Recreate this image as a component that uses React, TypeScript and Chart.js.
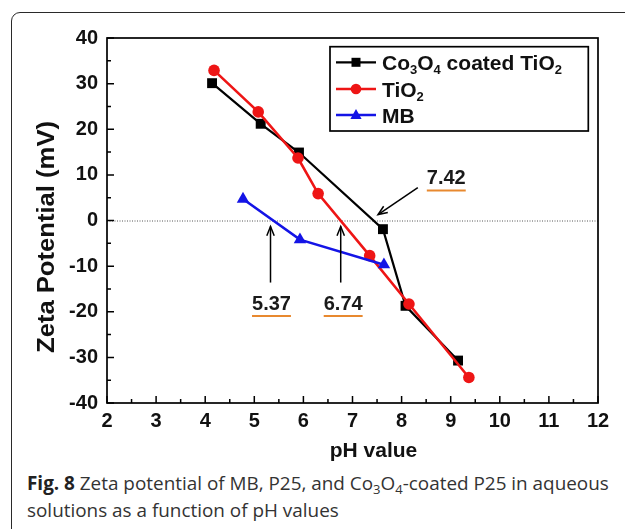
import React, { useEffect, useRef } from "react";
import { Chart, registerables } from "chart.js";

Chart.register(...registerables);

// ---- data ----
const co3o4X = [4.14, 5.13, 5.91, 7.62, 8.08, 9.15];
const co3o4Y = [30.1, 21.2, 14.9, -1.9, -18.7, -30.7];
const tio2X = [4.18, 5.08, 5.89, 6.3, 7.35, 8.15, 9.37];
const tio2Y = [32.9, 23.8, 13.7, 5.9, -7.7, -18.3, -34.4];
const mbX = [4.77, 5.93, 7.64];
const mbY = [4.7, -4.2, -9.7];

const xTickValues = [2, 3, 4, 5, 6, 7, 8, 9, 10, 11, 12];
const yTickValues = [-40, -30, -20, -10, 0, 10, 20, 30, 40];

const annotationLabels = ["5.37", "6.74", "7.42"];
const annotationLabelX = [5.35, 6.81, 8.91];
const annotationLabelY = [-18.3, -18.3, 9.2];
const arrowFromX = [5.33, 6.76, 8.33];
const arrowFromY = [-13.6, -13.6, 7.2];
const arrowToX = [5.33, 6.76, 7.52];
const arrowToY = [-1.3, -1.3, 1.3];

const seriesNames = [
  [
    { t: "Co" },
    { t: "3", sub: true },
    { t: "O" },
    { t: "4", sub: true },
    { t: " coated TiO" },
    { t: "2", sub: true },
  ],
  [{ t: "TiO" }, { t: "2", sub: true }],
  [{ t: "MB" }],
];

const BLACK = "#000000";
const RED = "#ee1515";
const BLUE = "#1414e6";
const FONT = "Arial, 'Liberation Sans', sans-serif";

const zip = (xs: number[], ys: number[]) => xs.map((x, i) => ({ x, y: ys[i] }));

const decorPlugin = {
  id: "decor",
  beforeDatasetsDraw(chart: any) {
    const { ctx, chartArea, scales } = chart;
    const y0 = scales.y.getPixelForValue(0);
    ctx.save();
    ctx.strokeStyle = "#555";
    ctx.lineWidth = 1;
    ctx.setLineDash([1, 1.5]);
    ctx.beginPath();
    ctx.moveTo(chartArea.left, y0 + 0.5);
    ctx.lineTo(chartArea.right, y0 + 0.5);
    ctx.stroke();
    ctx.restore();
  },
  afterDraw(chart: any) {
    const { ctx, chartArea, scales } = chart;
    const xs = scales.x;
    const ys = scales.y;
    const { left, right, top, bottom } = chartArea;
    ctx.save();
    // frame
    ctx.strokeStyle = "#000";
    ctx.lineWidth = 1.7;
    ctx.strokeRect(left, top, right - left, bottom - top);
    // ticks
    ctx.lineWidth = 1.5;
    ctx.beginPath();
    for (let v = xs.min; v <= xs.max + 1e-9; v += 0.5) {
      const px = xs.getPixelForValue(v);
      const major = Math.abs(v - Math.round(v)) < 1e-6;
      ctx.moveTo(px, bottom);
      ctx.lineTo(px, bottom - (major ? 7 : 4));
    }
    for (let v = ys.min; v <= ys.max + 1e-9; v += 5) {
      const py = ys.getPixelForValue(v);
      const major = Math.abs(v % 10) < 1e-6;
      ctx.moveTo(left, py);
      ctx.lineTo(left + (major ? 7 : 4), py);
    }
    ctx.stroke();

    // axis titles
    ctx.fillStyle = "#111";
    ctx.font = `bold 21px ${FONT}`;
    ctx.textAlign = "center";
    ctx.textBaseline = "alphabetic";
    ctx.fillText("pH value", 373.5, 456.5);

    const yTitle = "Zeta Potential (mV)";
    ctx.font = `bold 23px ${FONT}`;
    const w = ctx.measureText(yTitle).width;
    ctx.save();
    ctx.translate(54, 237);
    ctx.rotate(-Math.PI / 2);
    ctx.scale(232 / w, 1);
    ctx.fillText(yTitle, 0, 0);
    ctx.restore();

    // annotations
    const drawArrow = (x1: number, y1: number, x2: number, y2: number) => {
      ctx.strokeStyle = "#000";
      ctx.lineWidth = 1.5;
      ctx.beginPath();
      ctx.moveTo(x1, y1);
      ctx.lineTo(x2, y2);
      ctx.stroke();
      const ang = Math.atan2(y2 - y1, x2 - x1);
      const L = 10;
      const a = 0.38;
      ctx.beginPath();
      ctx.moveTo(x2 - L * Math.cos(ang - a), y2 - L * Math.sin(ang - a));
      ctx.lineTo(x2, y2);
      ctx.lineTo(x2 - L * Math.cos(ang + a), y2 - L * Math.sin(ang + a));
      ctx.stroke();
    };
    annotationLabels.forEach((lab, i) => {
      drawArrow(
        xs.getPixelForValue(arrowFromX[i]),
        ys.getPixelForValue(arrowFromY[i]),
        xs.getPixelForValue(arrowToX[i]),
        ys.getPixelForValue(arrowToY[i])
      );
      const cx = xs.getPixelForValue(annotationLabelX[i]);
      const cy = ys.getPixelForValue(annotationLabelY[i]);
      ctx.font = `bold 20px ${FONT}`;
      ctx.fillStyle = "#1a1a1a";
      ctx.textAlign = "center";
      ctx.textBaseline = "middle";
      ctx.fillText(lab, cx, cy);
      const tw = ctx.measureText(lab).width;
      ctx.strokeStyle = "#e8892f";
      ctx.lineWidth = 2;
      ctx.beginPath();
      ctx.moveTo(cx - tw / 2, cy + 12);
      ctx.lineTo(cx + tw / 2, cy + 12);
      ctx.stroke();
    });

    // legend
    const lx = 330, ly = 46.7, lw = 258.3, lh = 84.3;
    ctx.strokeStyle = "#000";
    ctx.lineWidth = 1.7;
    ctx.strokeRect(lx, ly, lw, lh);
    const rows = [62.3, 89, 115];
    const colors = [BLACK, RED, BLUE];
    const widths = [2.2, 2.6, 2.6];
    rows.forEach((ry, i) => {
      ctx.strokeStyle = colors[i];
      ctx.fillStyle = colors[i];
      ctx.lineWidth = widths[i];
      ctx.beginPath();
      ctx.moveTo(336, ry);
      ctx.lineTo(376, ry);
      ctx.stroke();
      ctx.beginPath();
      if (i === 0) {
        ctx.rect(356 - 4.5, ry - 4.5, 9, 9);
      } else if (i === 1) {
        ctx.arc(356, ry, 5.3, 0, Math.PI * 2);
      } else {
        ctx.moveTo(356, ry - 6);
        ctx.lineTo(356 + 5.6, ry + 4);
        ctx.lineTo(356 - 5.6, ry + 4);
        ctx.closePath();
      }
      ctx.fill();
      // text
      let tx = 382;
      const base = ry + 7.8;
      ctx.fillStyle = "#111";
      ctx.textAlign = "left";
      ctx.textBaseline = "alphabetic";
      seriesNames[i].forEach((seg: any) => {
        ctx.font = seg.sub ? `bold 13px ${FONT}` : `bold 21px ${FONT}`;
        ctx.fillText(seg.t, tx, seg.sub ? base + 4 : base);
        tx += ctx.measureText(seg.t).width;
      });
    });
    ctx.restore();
  },
};

function ChartCanvas() {
  const ref = useRef<HTMLCanvasElement | null>(null);
  useEffect(() => {
    if (!ref.current) return;
    const chart = new Chart(ref.current, {
      type: "line",
      data: {
        datasets: [
          {
            label: "Co3O4 coated TiO2",
            data: zip(co3o4X, co3o4Y),
            borderColor: BLACK,
            backgroundColor: BLACK,
            borderWidth: 2.2,
            pointStyle: "rect",
            pointRadius: 7,
            pointBorderWidth: 0,
            order: 3,
          },
          {
            label: "TiO2",
            data: zip(tio2X, tio2Y),
            borderColor: RED,
            backgroundColor: RED,
            borderWidth: 2.6,
            pointStyle: "circle",
            pointRadius: 5.8,
            pointBorderWidth: 0,
            order: 2,
          },
          {
            label: "MB",
            data: zip(mbX, mbY),
            borderColor: BLUE,
            backgroundColor: BLUE,
            borderWidth: 2.6,
            pointStyle: "triangle",
            pointRadius: 7.2,
            pointBorderWidth: 0,
            order: 1,
          },
        ],
      },
      options: {
        responsive: false,
        animation: false,
        events: [],
        layout: { padding: { left: 0, right: 27, top: 38, bottom: 0 } },
        plugins: { legend: { display: false }, tooltip: { enabled: false } },
        scales: {
          x: {
            type: "linear",
            min: 2,
            max: 12,
            afterBuildTicks: (s: any) => {
              s.ticks = xTickValues.map((v) => ({ value: v }));
            },
            afterFit: (s: any) => {
              s.height = 67;
            },
            grid: { display: false, drawTicks: false },
            border: { display: false },
            ticks: {
              padding: 6,
              color: "#111",
              font: { family: FONT, size: 20, weight: "bold" },
              maxRotation: 0,
            },
          },
          y: {
            type: "linear",
            min: -40,
            max: 40,
            afterBuildTicks: (s: any) => {
              s.ticks = yTickValues.map((v) => ({ value: v }));
            },
            afterFit: (s: any) => {
              s.width = 107;
            },
            grid: { display: false, drawTicks: false },
            border: { display: false },
            ticks: {
              padding: 9,
              color: "#111",
              font: { family: FONT, size: 20, weight: "bold" },
            },
          },
        },
      },
      plugins: [decorPlugin],
    } as any);
    return () => chart.destroy();
  }, []);
  return <canvas ref={ref} width={625} height={470} style={{ display: "block" }} />;
}

export default function App() {
  const sub: React.CSSProperties = {
    fontSize: "13px",
    position: "relative",
    top: "4px",
    lineHeight: 0,
  };
  return (
    <div
      style={{
        position: "fixed",
        left: 0,
        top: 0,
        width: 625,
        height: 529,
        overflow: "hidden",
        background: "#fff",
      }}
    >
      <div
        style={{
          position: "absolute",
          left: 11,
          top: 12,
          width: 680,
          height: 600,
          border: "1.5px solid #2a2a2a",
          borderRadius: 9,
          boxSizing: "border-box",
        }}
      />
      <div style={{ position: "absolute", left: 0, top: 0 }}>
        <ChartCanvas />
      </div>
      <div
        style={{
          position: "absolute",
          left: 27,
          top: 470,
          whiteSpace: "nowrap",
          fontFamily: "'Open Sans', sans-serif",
          fontSize: "18.9px",
          lineHeight: "27px",
          color: "#333",
        }}
      >
        <b style={{ color: "#222" }}>Fig. 8</b> Zeta potential of MB, P25, and Co
        <span style={sub}>3</span>O<span style={sub}>4</span>-coated P25 in aqueous
        <br />
        solutions as a function of pH values
      </div>
    </div>
  );
}
